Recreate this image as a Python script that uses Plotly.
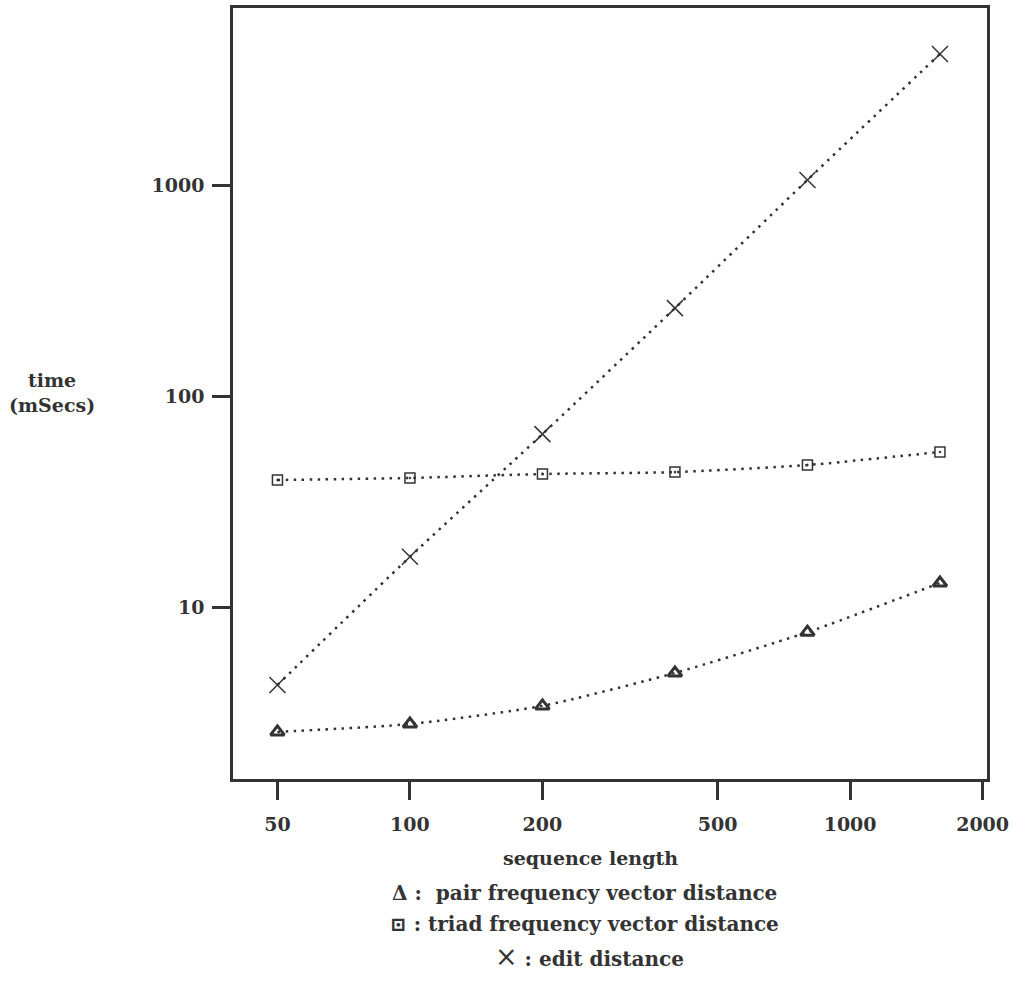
import plotly.graph_objects as go

seq_len = [50, 100, 200, 400, 800, 1600]
pair_freq = [2.56, 2.79, 3.40, 4.87, 7.6, 13.0]
triad_freq = [40.0, 40.9, 42.7, 43.6, 47.1, 54.3]
edit_dist = [4.27, 17.3, 66.0, 261.0, 1057.0, 4180.0]

x_ticks = [50, 100, 200, 500, 1000, 2000]
y_ticks = [10, 100, 1000]

ink = "#333333"
FONT = "DejaVu Serif"

fig = go.Figure()

def add(y, sym, size, lw):
    fig.add_trace(go.Scatter(
        x=seq_len, y=y, mode="lines+markers",
        line=dict(color=ink, width=2.5, dash="2.5px,5.5px", shape="spline", smoothing=0.6),
        marker=dict(symbol=sym, size=size, color=ink, line=dict(color=ink, width=lw)),
        showlegend=False, cliponaxis=False))

add(pair_freq, "triangle-up-open", 12, 3)
add(triad_freq, "square-open-dot", 10, 1.5)
add(edit_dist, "x-thin-open", 16, 1.5)

axis_common = dict(
    type="log", showgrid=False, zeroline=False, automargin=False,
    showline=True, linecolor=ink, linewidth=2.5, mirror=True,
    ticks="outside", ticklen=18, tickwidth=2.5, tickcolor=ink,
    tickfont=dict(family=FONT, size=19, color=ink, weight="bold"),
)

fig.update_xaxes(**axis_common, range=[1.598, 3.311], ticklabelstandoff=8,
                 tickvals=x_ticks, ticktext=[str(v) for v in x_ticks])
fig.update_yaxes(**axis_common, range=[0.185, 3.839], ticklabelstandoff=4,
                 tickvals=y_ticks, ticktext=[str(v) for v in y_ticks])

def note(text, x, y, size=19):
    fig.add_annotation(text=text, x=x, y=y, xref="paper", yref="paper",
                       showarrow=False, xanchor="center", yanchor="middle",
                       font=dict(family=FONT, size=size, color=ink, weight="bold"))

# paper coords: plot area x 233..987, y 8..779 (px from top)
def px(xp):
    return (xp - 233) / (987 - 233)
def py(yp):
    return (779 - yp) / (779 - 8)

note("sequence length", px(590), py(858), 19)
note("Δ :  pair frequency vector distance", px(584), py(893), 20)
note("⊡ : triad frequency vector distance", px(584), py(924), 20)
note("<span style='font-size:27px;font-weight:normal'>×</span> : edit distance", px(589), py(956), 20)
note("time<br>(mSecs)", px(52), py(392), 19)

fig.update_layout(
    width=1012, height=998,
    margin=dict(l=233, r=25, t=8, b=219),
    paper_bgcolor="white", plot_bgcolor="white",
)

fig.write_html("out.html")
